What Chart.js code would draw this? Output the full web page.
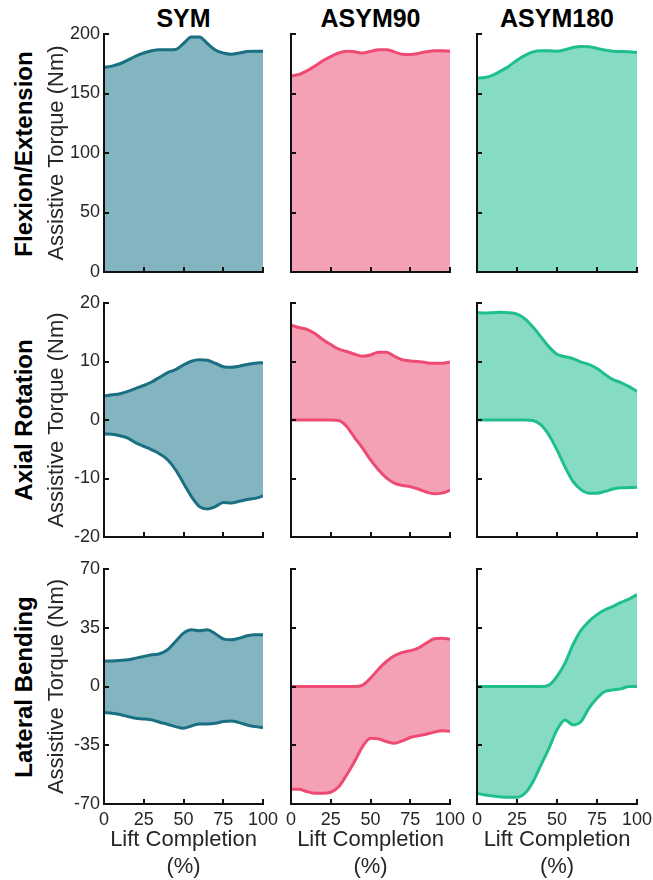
<!DOCTYPE html>
<html>
<head>
<meta charset="utf-8">
<script src="https://cdn.jsdelivr.net/npm/chart.js@4.4.1/dist/chart.umd.min.js"></script>
<style>
  html, body { margin: 0; padding: 0; background: #fff; overflow: hidden; }
  #fig { position: relative; width: 653px; height: 880px; overflow: hidden; font-family: "Liberation Sans", Arial, sans-serif; color: #262626; }
  #fig canvas { position: absolute; }
  .col-title { position: absolute; top: 18px; transform: translate(-50%, -50%); font-weight: bold; font-size: 25px; line-height: 1; color: #000; white-space: nowrap; }
  .row-title { position: absolute; left: 24px; transform: translate(-50%, -50%) rotate(-90deg); font-weight: bold; font-size: 24px; line-height: 1; color: #000; white-space: nowrap; }
</style>
</head>
<body>
<div id="fig">
  <div class="col-title" style="left:183.5px">SYM</div>
  <div class="col-title" style="left:370.5px">ASYM90</div>
  <div class="col-title" style="left:557px">ASYM180</div>
  <div class="row-title" style="top:153.5px">Flexion/Extension</div>
  <div class="row-title" style="top:420px">Axial Rotation</div>
  <div class="row-title" style="top:686.5px">Lateral Bending</div>
</div>
<script>
// ---- data ----
const LIFT = [0, 5, 10, 15, 20, 25, 30, 35, 40, 45, 50, 55, 60, 65, 70, 75, 80, 85, 90, 95, 100];

const SYM_FE     = [172, 173, 175, 178, 181.5, 184, 186, 186.8, 186.8, 187, 192, 197.5, 197.5, 192, 186.5, 184, 183, 184, 185.2, 185.5, 185.5];
const ASYM90_FE  = [164.8, 166, 169, 173, 177.5, 181, 184, 185.4, 185, 184, 185.4, 186.8, 186.8, 185, 183, 182.8, 183.7, 185, 186, 186, 185.6];
const ASYM180_FE = [163, 163.4, 165.4, 169, 173, 178, 182, 185, 186, 186, 185.4, 186.8, 188.7, 189.6, 189.3, 187.9, 186.5, 185.6, 185.3, 185, 184.5];

const SYM_AR_HI     = [4.1, 4.3, 4.5, 4.9, 5.4, 5.9, 6.5, 7.3, 8.1, 8.6, 9.4, 10.05, 10.3, 10.2, 9.7, 9.1, 9.0, 9.2, 9.5, 9.7, 9.8];
const SYM_AR_LO     = [-2.4, -2.45, -2.7, -3.1, -3.9, -4.5, -5.1, -5.8, -6.8, -8.5, -10.8, -13.1, -14.8, -15.2, -14.8, -14.1, -14.2, -13.9, -13.6, -13.4, -13.0];
const ASYM90_AR_HI  = [16.2, 15.8, 15.5, 14.8, 13.75, 12.9, 12.1, 11.7, 11.25, 10.9, 11.1, 11.6, 11.6, 10.9, 10.3, 10.1, 10.0, 9.8, 9.7, 9.7, 9.9];
const ASYM90_AR_LO  = [0, 0, 0, 0, 0, 0, -0.1, -1.1, -3.0, -4.8, -6.8, -8.5, -9.9, -10.8, -11.2, -11.4, -11.8, -12.3, -12.6, -12.5, -12.0];
const ASYM180_AR_HI = [18.35, 18.3, 18.35, 18.4, 18.35, 18.1, 17.3, 15.9, 14.2, 12.5, 11.25, 10.8, 10.5, 9.9, 9.5, 8.8, 7.8, 6.9, 6.4, 5.7, 4.9];
const ASYM180_AR_LO = [0, 0, 0, 0, 0, 0, 0, -0.1, -0.85, -2.6, -5.1, -8.0, -10.5, -11.9, -12.5, -12.5, -12.2, -11.8, -11.6, -11.55, -11.5];

const SYM_LB_HI     = [15.1, 15.2, 15.5, 15.9, 16.9, 17.9, 18.9, 19.5, 21.9, 26.8, 31.8, 33.8, 33.2, 33.8, 31.4, 28.4, 27.8, 28.8, 30.2, 30.8, 30.8];
const SYM_LB_LO     = [-15.5, -15.9, -16.7, -17.9, -18.9, -19.3, -19.9, -21.3, -22.5, -23.9, -24.9, -23.5, -22.3, -22.3, -21.9, -20.9, -20.5, -21.5, -22.9, -23.9, -24.5];
const ASYM90_LB_HI  = [0, 0, 0, 0, 0, 0, 0, 0, 0, 0.8, 5, 10.3, 14.9, 18.3, 20.3, 21.3, 22.9, 25.8, 28.4, 28.8, 28.2];
const ASYM90_LB_LO  = [-61.2, -61.2, -62.6, -63.6, -63.6, -63, -59.7, -52.7, -44.7, -35.8, -30.8, -31.2, -32.8, -33.8, -32.4, -30.4, -29.4, -28.4, -27.2, -26.4, -26.6];
const ASYM180_LB_HI = [0, 0, 0, 0, 0, 0, 0, 0, 0, 0.8, 6, 13.9, 24.9, 33.4, 38.8, 42.8, 45.7, 47.7, 50.1, 52.1, 54.7];
const ASYM180_LB_LO = [-63.6, -64.6, -65.2, -65.8, -66, -66, -63.6, -56.7, -46.7, -36.8, -25.8, -19.9, -22.9, -20.9, -12.9, -7.0, -3.0, -2.0, -1.4, 0, 0];

const X_TICKS = [0, 25, 50, 75, 100];
const Y_RANGES = [[0, 200, 50], [-20, 20, 10], [-70, 70, 35]];

// ---- styles ----
const LINE_COLORS = ['#1a6f82', '#ee4b73', '#1fbf8c'];
const FILL_COLORS = ['#83b5c1', '#f4a1b5', '#86dbc4'];
const AXIS_COLOR = '#111111';
const TEXT_COLOR = '#262626';
const FONT = '"Liberation Sans", Arial, sans-serif';

// plot area positions in the page (px)
const PLOT_LEFT = [104, 291, 477];
const PLOT_RIGHT = [263, 450, 637];
const PLOT_TOP = [34, 303, 569];
const PLOT_BOTTOM = [272, 537, 804];
const PAD_TOP = 16;
const PAD_RIGHT = 22;

// inward tick marks like the original
const inwardTicks = {
  id: 'inwardTicks',
  afterDatasetsDraw(chart) {
    const { ctx, chartArea, scales: { x, y } } = chart;
    ctx.save();
    ctx.strokeStyle = AXIS_COLOR;
    ctx.lineWidth = 2;
    ctx.beginPath();
    x.ticks.forEach(t => {
      const px = Math.round(x.getPixelForValue(t.value));
      ctx.moveTo(px, chartArea.bottom);
      ctx.lineTo(px, chartArea.bottom - 5);
    });
    y.ticks.forEach(t => {
      const py = Math.round(y.getPixelForValue(t.value));
      ctx.moveTo(chartArea.left, py);
      ctx.lineTo(chartArea.left + 5, py);
    });
    ctx.stroke();
    ctx.restore();
  }
};

function pts(arr) {
  return LIFT.map((x, i) => ({ x: x, y: arr[i] }));
}

function makePanel(col, row, series) {
  const yw = col === 0 ? 64 : 12;
  const xh = row === 2 ? 76 : 16;
  const left = PLOT_LEFT[col] - yw;
  const top = PLOT_TOP[row] - PAD_TOP;
  const w = PLOT_RIGHT[col] - left + PAD_RIGHT;
  const h = PLOT_BOTTOM[row] - top + xh;

  const canvas = document.createElement('canvas');
  canvas.width = w;
  canvas.height = h;
  canvas.style.left = left + 'px';
  canvas.style.top = top + 'px';
  canvas.style.width = w + 'px';
  canvas.style.height = h + 'px';
  document.getElementById('fig').appendChild(canvas);

  const lineBase = {
    borderColor: LINE_COLORS[col],
    backgroundColor: FILL_COLORS[col],
    borderWidth: 3,
    pointRadius: 0,
    cubicInterpolationMode: 'monotone'
  };
  let datasets;
  if (series.length === 1) {
    datasets = [Object.assign({ data: pts(series[0]), fill: 'origin' }, lineBase)];
  } else {
    datasets = [
      Object.assign({ data: pts(series[0]), fill: '+1' }, lineBase),
      Object.assign({ data: pts(series[1]), fill: false }, lineBase)
    ];
  }

  const [ymin, ymax, ystep] = Y_RANGES[row];

  new Chart(canvas.getContext('2d'), {
    type: 'line',
    data: { datasets: datasets },
    options: {
      responsive: false,
      animation: false,
      layout: { padding: { top: PAD_TOP, right: PAD_RIGHT, left: 0, bottom: 0 } },
      plugins: {
        legend: { display: false },
        tooltip: { enabled: false },
        filler: { drawTime: 'beforeDatasetsDraw' }
      },
      scales: {
        x: {
          type: 'linear',
          min: 0, max: 100,
          afterBuildTicks: s => { s.ticks = X_TICKS.map(v => ({ value: v })); },
          afterFit: s => { s.height = xh; },
          grid: { display: false, drawTicks: false },
          border: { display: true, color: AXIS_COLOR, width: 2, z: 1 },
          ticks: {
            display: row === 2,
            padding: 5,
            maxRotation: 0,
            autoSkip: false,
            color: TEXT_COLOR,
            font: { family: FONT, size: 18 }
          },
          title: {
            display: row === 2,
            text: ['Lift Completion', '(%)'],
            color: TEXT_COLOR,
            padding: { top: 0, bottom: 0 },
            font: { family: FONT, size: 22, lineHeight: 1.22 }
          }
        },
        y: {
          min: ymin, max: ymax,
          afterBuildTicks: s => {
            const t = [];
            for (let v = ymin; v <= ymax; v += ystep) t.push({ value: v });
            s.ticks = t;
          },
          afterFit: s => { s.width = yw; },
          grid: { display: false, drawTicks: false },
          border: { display: true, color: AXIS_COLOR, width: 2, z: 1 },
          ticks: {
            display: col === 0,
            padding: 4,
            color: TEXT_COLOR,
            font: { family: FONT, size: 18 }
          },
          title: {
            display: col === 0,
            text: 'Assistive Torque (Nm)',
            color: TEXT_COLOR,
            padding: { top: 4, bottom: 0 },
            font: { family: FONT, size: 22 }
          }
        }
      }
    },
    plugins: [inwardTicks]
  });
}

makePanel(0, 0, [SYM_FE]);
makePanel(1, 0, [ASYM90_FE]);
makePanel(2, 0, [ASYM180_FE]);
makePanel(0, 1, [SYM_AR_HI, SYM_AR_LO]);
makePanel(1, 1, [ASYM90_AR_HI, ASYM90_AR_LO]);
makePanel(2, 1, [ASYM180_AR_HI, ASYM180_AR_LO]);
makePanel(0, 2, [SYM_LB_HI, SYM_LB_LO]);
makePanel(1, 2, [ASYM90_LB_HI, ASYM90_LB_LO]);
makePanel(2, 2, [ASYM180_LB_HI, ASYM180_LB_LO]);
</script>
</body>
</html>
